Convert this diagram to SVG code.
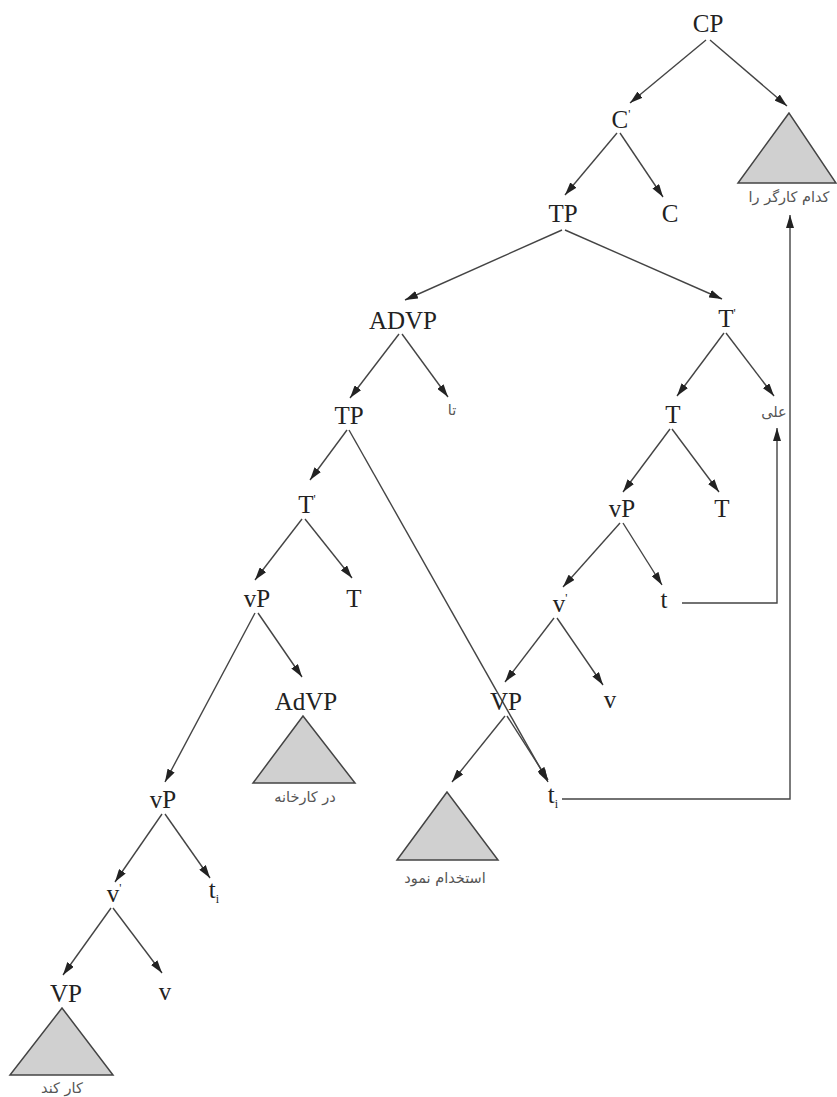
<svg xmlns="http://www.w3.org/2000/svg" width="837" height="1097" viewBox="0 0 837 1097">
<defs>
<style>
.n{font-family:"Liberation Serif","Times New Roman",serif;font-size:25px;fill:#222;text-anchor:middle}
.p{font-size:12px}
.fa{font-family:"DejaVu Sans","Noto Sans",sans-serif;font-size:14.5px;fill:#555;text-anchor:middle}
.tri{fill:#d0d0d0;stroke:#444;stroke-width:1.5}
.e{stroke:#444;stroke-width:1.4;fill:none;marker-end:url(#ah)}
</style>
<marker id="ah" viewBox="0 0 13 8" refX="13" refY="4" markerWidth="13" markerHeight="8" markerUnits="userSpaceOnUse" orient="auto">
<path d="M0,0 L13,4 L0,8 z" fill="#222"/>
</marker>
</defs>
<rect width="837" height="1097" fill="#fff"/>
<g id="connectors">
<line class="e" x1="706" y1="40" x2="630" y2="103"/>
<line class="e" x1="710" y1="40" x2="787" y2="106"/>
<line class="e" x1="617" y1="133" x2="565" y2="195"/>
<line class="e" x1="620" y1="133" x2="663" y2="197"/>
<line class="e" x1="562" y1="230" x2="405" y2="300"/>
<line class="e" x1="565" y1="230" x2="722" y2="299"/>
<line class="e" x1="399" y1="334" x2="350" y2="398"/>
<line class="e" x1="402" y1="334" x2="448" y2="397"/>
<line class="e" x1="724" y1="333" x2="677" y2="396"/>
<line class="e" x1="726" y1="333" x2="774" y2="396"/>
<line class="e" x1="347" y1="430" x2="310" y2="480"/>
<line class="e" x1="349" y1="430" x2="548" y2="782"/>
<line class="e" x1="670" y1="429" x2="623" y2="492"/>
<line class="e" x1="672" y1="429" x2="719" y2="492"/>
<line class="e" x1="302" y1="519" x2="255" y2="580"/>
<line class="e" x1="305" y1="519" x2="352" y2="578"/>
<line class="e" x1="620" y1="523" x2="563" y2="587"/>
<line class="e" x1="623" y1="523" x2="662" y2="585"/>
<line class="e" x1="255" y1="613" x2="165" y2="782"/>
<line class="e" x1="258" y1="613" x2="302" y2="677"/>
<line class="e" x1="554" y1="618" x2="505" y2="682"/>
<line class="e" x1="557" y1="618" x2="603" y2="685"/>
<line class="e" x1="505" y1="716" x2="452" y2="782"/>
<line class="e" x1="507" y1="716" x2="548" y2="780"/>
<line class="e" x1="162" y1="814" x2="115" y2="882"/>
<line class="e" x1="165" y1="814" x2="210" y2="878"/>
<line class="e" x1="111" y1="908" x2="63" y2="975"/>
<line class="e" x1="113" y1="908" x2="162" y2="973"/>
<polyline class="e" points="682,603 777,603 777,428"/>
<polyline class="e" points="562,799 790,799 790,215"/>
</g>
<g id="CP"><text class="n" x="708" y="32">CP</text></g>
<g id="Cbar"><text class="n" x="621" y="128">C<tspan class="p" dy="-10">'</tspan></text></g>
<g id="kodam"><polygon class="tri" points="789,113 738,183 836,183"/><text class="fa" x="789" y="202">کدام کارگر را</text></g>
<g id="TP1"><text class="n" x="563" y="222">TP</text></g>
<g id="C"><text class="n" x="670" y="222">C</text></g>
<g id="ADVP"><text class="n" x="403" y="329">ADVP</text></g>
<g id="Tbar1"><text class="n" x="727" y="327">T<tspan class="p" dy="-10">'</tspan></text></g>
<g id="TP2"><text class="n" x="349" y="424">TP</text></g>
<g id="ta"><text class="fa" x="452" y="415">تا</text></g>
<g id="T1"><text class="n" x="673" y="423">T</text></g>
<g id="ali"><text class="fa" x="774" y="417">علی</text></g>
<g id="Tbar2"><text class="n" x="307" y="513">T<tspan class="p" dy="-10">'</tspan></text></g>
<g id="vP1"><text class="n" x="622" y="517">vP</text></g>
<g id="T2"><text class="n" x="722" y="517">T</text></g>
<g id="vP2"><text class="n" x="257" y="607">vP</text></g>
<g id="T3"><text class="n" x="354" y="607">T</text></g>
<g id="vbar1"><text class="n" x="560" y="612">v<tspan class="p" dy="-10">'</tspan></text></g>
<g id="t1"><text class="n" x="664" y="608">t</text></g>
<g id="AdVP"><text class="n" x="306" y="710">AdVP</text><polygon class="tri" points="303,716 253,783 355,783"/><text class="fa" x="305" y="802">در کارخانه</text></g>
<g id="VP1"><text class="n" x="506" y="710">VP</text></g>
<g id="v1"><text class="n" x="610" y="708">v</text></g>
<g id="estekhdam"><polygon class="tri" points="447,792 397,860 498,860"/><text class="fa" x="445" y="883">استخدام نمود</text></g>
<g id="ti1"><text class="n" x="553" y="803">t<tspan class="p" dy="5">i</tspan></text></g>
<g id="vP3"><text class="n" x="163" y="808">vP</text></g>
<g id="vbar2"><text class="n" x="114" y="902">v<tspan class="p" dy="-10">'</tspan></text></g>
<g id="ti2"><text class="n" x="214" y="898">t<tspan class="p" dy="5">i</tspan></text></g>
<g id="VP2"><text class="n" x="66" y="1002">VP</text><polygon class="tri" points="62,1008 10,1075 113,1075"/><text class="fa" x="62" y="1093">کار کند</text></g>
<g id="v2"><text class="n" x="165" y="1000">v</text></g>
</svg>
